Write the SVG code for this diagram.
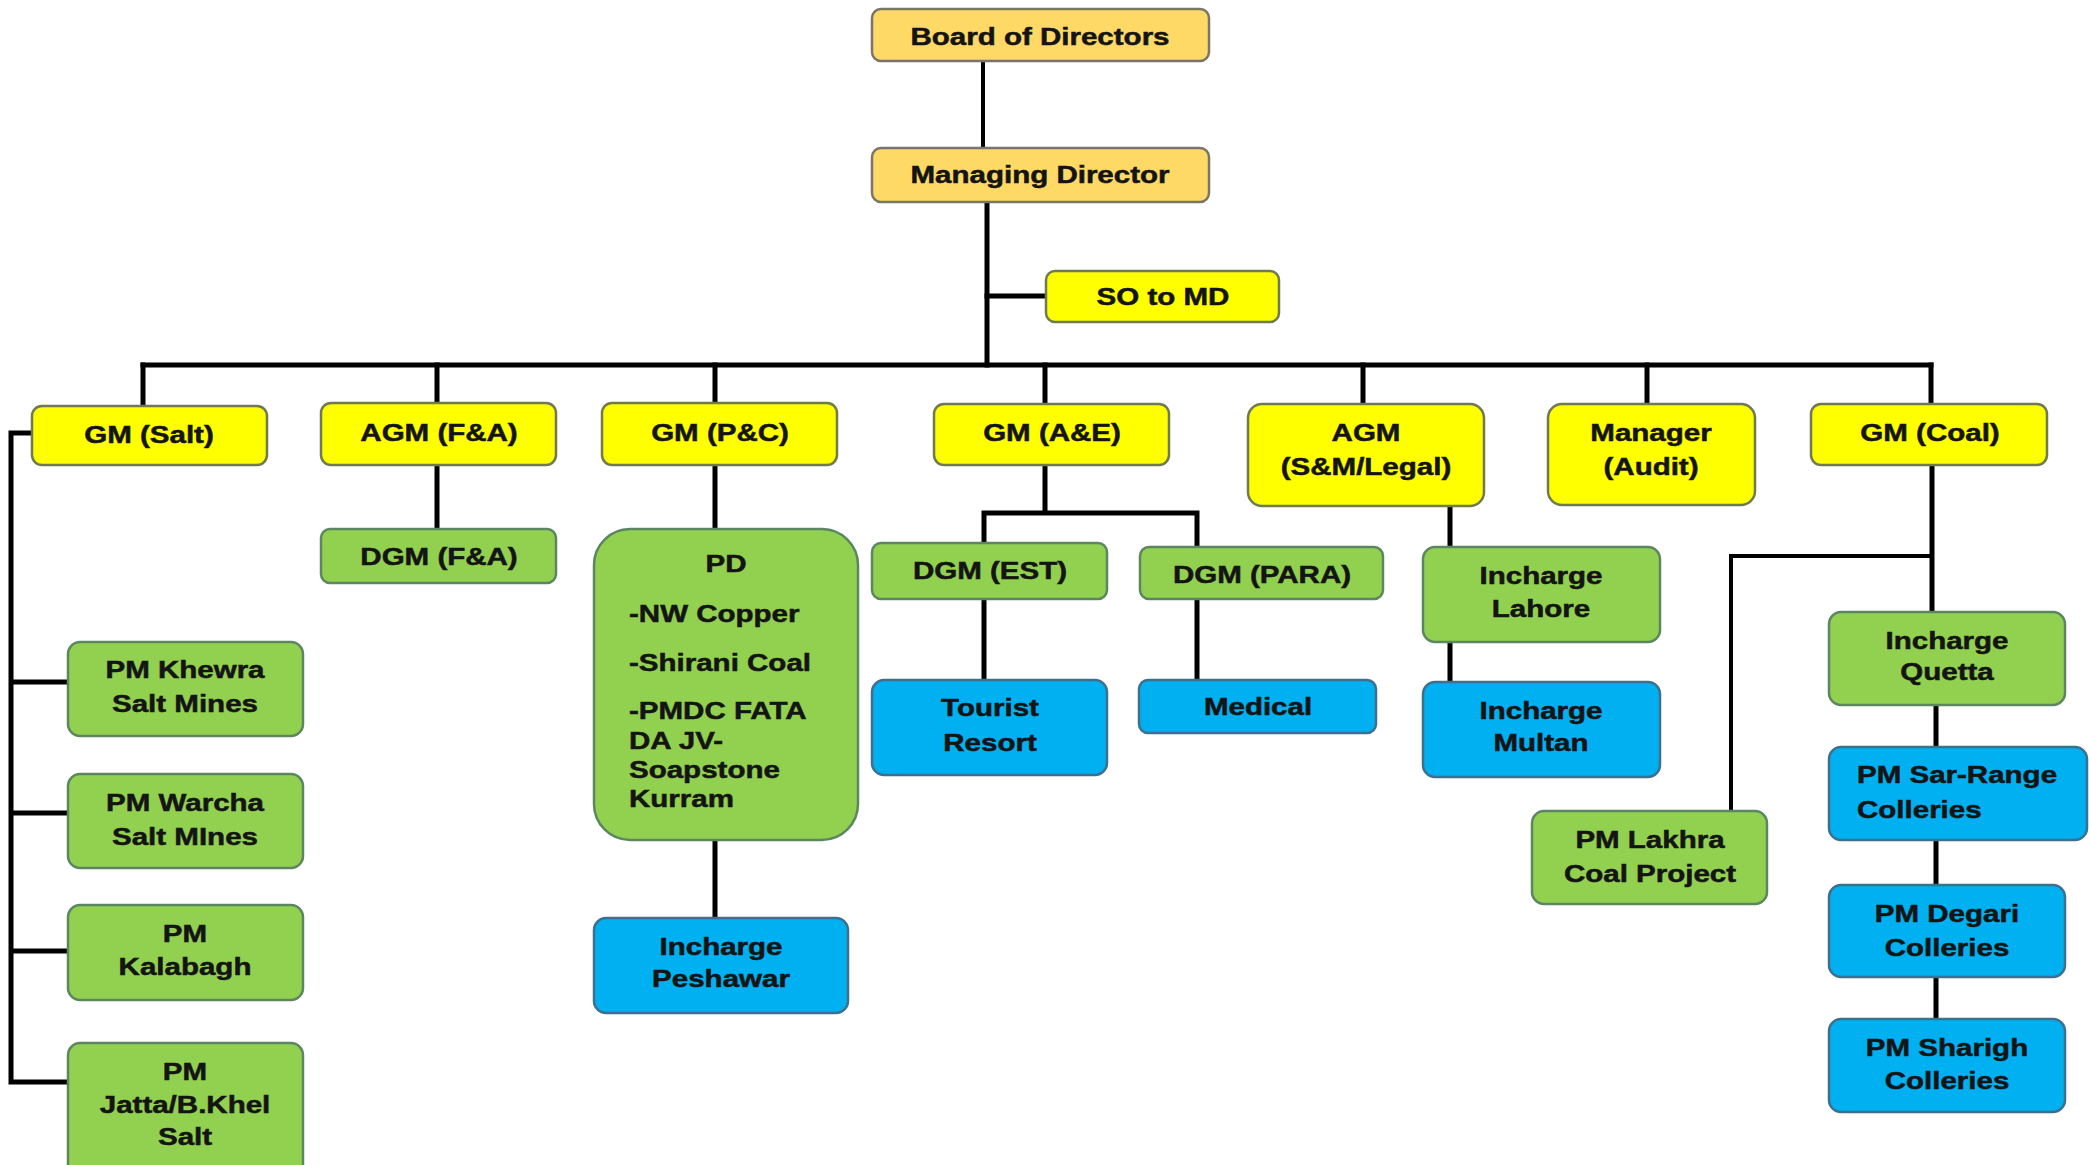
<svg xmlns="http://www.w3.org/2000/svg" width="2089" height="1165" viewBox="0 0 2089 1165">
<style>
.box{stroke-width:2.5}
.o{fill:#FFD966;stroke:#7a7566}
.y{fill:#FFFF00;stroke:#6f7a50}
.g{fill:#92D050;stroke:#5b8660}
.b{fill:#00B0F0;stroke:#3d6f8e}
.t{font-family:"Liberation Sans",Arial,sans-serif;font-weight:bold;font-size:24px;fill:#141414;stroke:#141414;stroke-width:0.5;text-anchor:middle}
.l{text-anchor:start}
.c{fill:none;stroke:#000;stroke-width:5;stroke-linecap:square}
.c2{fill:none;stroke:#000;stroke-width:4;stroke-linecap:square}
</style>
<rect width="2089" height="1165" fill="#fff"/>
<g id="connectors">
<path class="c2" d="M983 61V148"/>
<path class="c" d="M987 202V365"/>
<path class="c" d="M987 296H1046"/>
<path class="c" d="M143 365H1931"/>
<path class="c" d="M143 365V406M437 365V403M715 365V403M1045 365V404M1363 365V404M1647 365V404M1931 365V404"/>
<path class="c" d="M32 433H11V1082H68M11 682H68M11 813H68M11 951H68"/>
<path class="c" d="M437 465V529"/>
<path class="c" d="M715 465V529M715 840V918"/>
<path class="c" d="M1045 465V513M984 543V513H1197V547"/>
<path class="c" d="M984 599V680M1197 599V680"/>
<path class="c" d="M1450 506V547M1450 642V682"/>
<path class="c" d="M1932 465V612M1936 705V747M1936 840V885M1936 977V1019"/>
<path class="c2" d="M1932 556H1731V811"/>
</g>
<g id="board"><rect class="box o" x="872" y="9" width="337" height="52" rx="9"/><text class="t" transform="translate(1040 0) scale(1.23 1)"><tspan x="0" y="45">Board of Directors</tspan></text></g>
<g id="md"><rect class="box o" x="872" y="148" width="337" height="54" rx="9"/><text class="t" transform="translate(1040 0) scale(1.23 1)"><tspan x="0" y="183">Managing Director</tspan></text></g>
<g id="so-md"><rect class="box y" x="1046" y="271" width="233" height="51" rx="9"/><text class="t" transform="translate(1163 0) scale(1.23 1)"><tspan x="0" y="305">SO to MD</tspan></text></g>
<g id="gm-salt"><rect class="box y" x="32" y="406" width="235" height="59" rx="10"/><text class="t" transform="translate(149 0) scale(1.23 1)"><tspan x="0" y="443">GM (Salt)</tspan></text></g>
<g id="agm-fa"><rect class="box y" x="321" y="403" width="235" height="62" rx="10"/><text class="t" transform="translate(439 0) scale(1.23 1)"><tspan x="0" y="441">AGM (F&amp;A)</tspan></text></g>
<g id="gm-pc"><rect class="box y" x="602" y="403" width="235" height="62" rx="10"/><text class="t" transform="translate(720 0) scale(1.23 1)"><tspan x="0" y="441">GM (P&amp;C)</tspan></text></g>
<g id="gm-ae"><rect class="box y" x="934" y="404" width="235" height="61" rx="10"/><text class="t" transform="translate(1052 0) scale(1.23 1)"><tspan x="0" y="441">GM (A&amp;E)</tspan></text></g>
<g id="agm-sm"><rect class="box y" x="1248" y="404" width="236" height="102" rx="14"/><text class="t" transform="translate(1366 0) scale(1.23 1)"><tspan x="0" y="441">AGM</tspan><tspan x="0" y="475">(S&amp;M/Legal)</tspan></text></g>
<g id="mgr-audit"><rect class="box y" x="1548" y="404" width="207" height="101" rx="14"/><text class="t" transform="translate(1651 0) scale(1.23 1)"><tspan x="0" y="441">Manager</tspan><tspan x="0" y="475">(Audit)</tspan></text></g>
<g id="gm-coal"><rect class="box y" x="1811" y="404" width="236" height="61" rx="10"/><text class="t" transform="translate(1930 0) scale(1.23 1)"><tspan x="0" y="441">GM (Coal)</tspan></text></g>
<g id="dgm-fa"><rect class="box g" x="321" y="529" width="235" height="54" rx="9"/><text class="t" transform="translate(439 0) scale(1.23 1)"><tspan x="0" y="565">DGM (F&amp;A)</tspan></text></g>
<g id="pd"><rect class="box g" x="594" y="529" width="264" height="311" rx="36"/><text class="t" transform="translate(726 0) scale(1.23 1)"><tspan x="0" y="572">PD</tspan></text><text class="t l" transform="translate(629 0) scale(1.23 1)"><tspan x="0" y="622">-NW Copper</tspan><tspan x="0" y="671">-Shirani Coal</tspan><tspan x="0" y="719">-PMDC FATA</tspan><tspan x="0" y="749">DA JV-</tspan><tspan x="0" y="778">Soapstone</tspan><tspan x="0" y="807">Kurram</tspan></text></g>
<g id="peshawar"><rect class="box b" x="594" y="918" width="254" height="95" rx="12"/><text class="t" transform="translate(721 0) scale(1.23 1)"><tspan x="0" y="955">Incharge</tspan><tspan x="0" y="987">Peshawar</tspan></text></g>
<g id="dgm-est"><rect class="box g" x="872" y="543" width="235" height="56" rx="9"/><text class="t" transform="translate(990 0) scale(1.23 1)"><tspan x="0" y="579">DGM (EST)</tspan></text></g>
<g id="dgm-para"><rect class="box g" x="1140" y="547" width="243" height="52" rx="9"/><text class="t" transform="translate(1262 0) scale(1.23 1)"><tspan x="0" y="583">DGM (PARA)</tspan></text></g>
<g id="tourist"><rect class="box b" x="872" y="680" width="235" height="95" rx="12"/><text class="t" transform="translate(990 0) scale(1.23 1)"><tspan x="0" y="716">Tourist</tspan><tspan x="0" y="751">Resort</tspan></text></g>
<g id="medical"><rect class="box b" x="1139" y="680" width="237" height="53" rx="9"/><text class="t" transform="translate(1258 0) scale(1.23 1)"><tspan x="0" y="715">Medical</tspan></text></g>
<g id="lahore"><rect class="box g" x="1423" y="547" width="237" height="95" rx="12"/><text class="t" transform="translate(1541 0) scale(1.23 1)"><tspan x="0" y="584">Incharge</tspan><tspan x="0" y="617">Lahore</tspan></text></g>
<g id="multan"><rect class="box b" x="1423" y="682" width="237" height="95" rx="12"/><text class="t" transform="translate(1541 0) scale(1.23 1)"><tspan x="0" y="719">Incharge</tspan><tspan x="0" y="751">Multan</tspan></text></g>
<g id="khewra"><rect class="box g" x="68" y="642" width="235" height="94" rx="12"/><text class="t" transform="translate(185 0) scale(1.23 1)"><tspan x="0" y="678">PM Khewra</tspan><tspan x="0" y="712">Salt Mines</tspan></text></g>
<g id="warcha"><rect class="box g" x="68" y="774" width="235" height="94" rx="12"/><text class="t" transform="translate(185 0) scale(1.23 1)"><tspan x="0" y="811">PM Warcha</tspan><tspan x="0" y="845">Salt MInes</tspan></text></g>
<g id="kalabagh"><rect class="box g" x="68" y="905" width="235" height="95" rx="12"/><text class="t" transform="translate(185 0) scale(1.23 1)"><tspan x="0" y="942">PM</tspan><tspan x="0" y="975">Kalabagh</tspan></text></g>
<g id="jatta"><rect class="box g" x="68" y="1043" width="235" height="140" rx="12"/><text class="t" transform="translate(185 0) scale(1.23 1)"><tspan x="0" y="1080">PM</tspan><tspan x="0" y="1113">Jatta/B.Khel</tspan><tspan x="0" y="1145">Salt</tspan></text></g>
<g id="lakhra"><rect class="box g" x="1532" y="811" width="235" height="93" rx="12"/><text class="t" transform="translate(1650 0) scale(1.23 1)"><tspan x="0" y="848">PM Lakhra</tspan><tspan x="0" y="882">Coal Project</tspan></text></g>
<g id="quetta"><rect class="box g" x="1829" y="612" width="236" height="93" rx="12"/><text class="t" transform="translate(1947 0) scale(1.23 1)"><tspan x="0" y="649">Incharge</tspan><tspan x="0" y="680">Quetta</tspan></text></g>
<g id="sar-range"><rect class="box b" x="1829" y="747" width="258" height="93" rx="12"/><text class="t l" transform="translate(1857 0) scale(1.23 1)"><tspan x="0" y="783">PM Sar-Range</tspan><tspan x="0" y="818">Colleries</tspan></text></g>
<g id="degari"><rect class="box b" x="1829" y="885" width="236" height="92" rx="12"/><text class="t" transform="translate(1947 0) scale(1.23 1)"><tspan x="0" y="922">PM Degari</tspan><tspan x="0" y="956">Colleries</tspan></text></g>
<g id="sharigh"><rect class="box b" x="1829" y="1019" width="236" height="93" rx="12"/><text class="t" transform="translate(1947 0) scale(1.23 1)"><tspan x="0" y="1056">PM Sharigh</tspan><tspan x="0" y="1089">Colleries</tspan></text></g>
</svg>
